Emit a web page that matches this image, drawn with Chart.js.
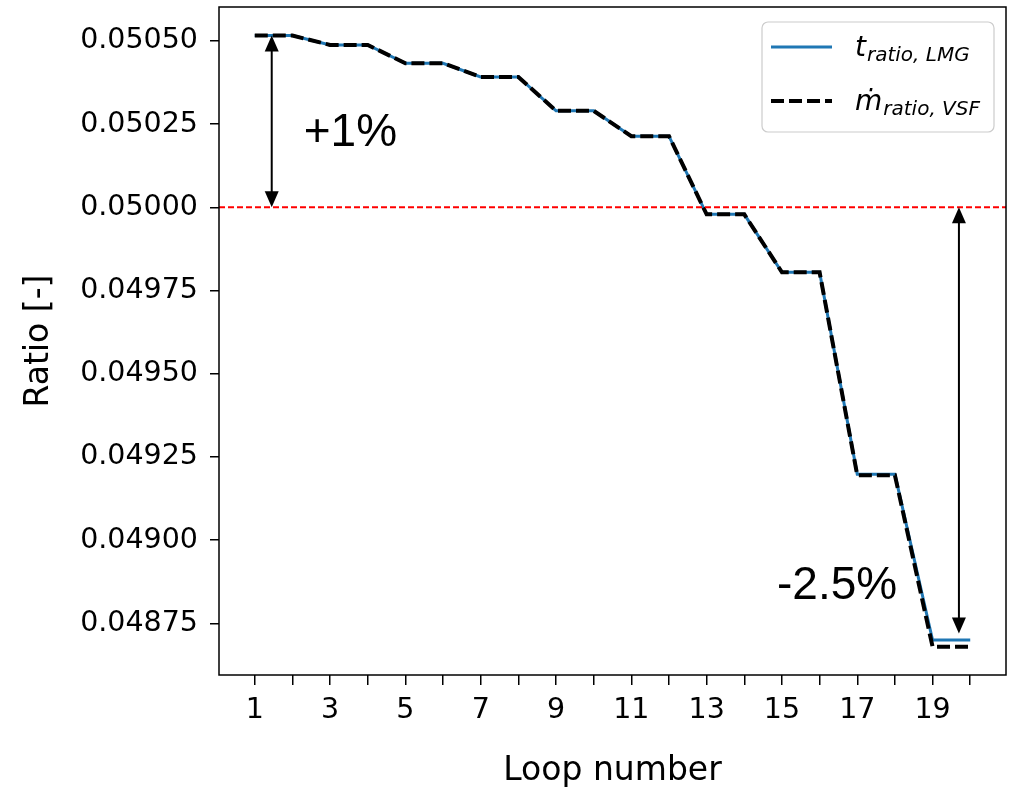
<!DOCTYPE html>
<html>
<head>
<meta charset="utf-8">
<script src="https://cdn.jsdelivr.net/npm/chart.js@4/dist/chart.umd.min.js"></script>
<style>
  html, body { margin: 0; padding: 0; background: #fff; }
  #wrap { width: 1013px; height: 789px; position: relative; }
</style>
</head>
<body>
<div id="wrap"><canvas id="c"></canvas></div>
<script>
// Loop index and the two ratio series per loop
const loops = [1, 2, 3, 4, 5, 6, 7, 8, 9, 10, 11, 12, 13, 14, 15, 16, 17, 18, 19, 20];
const tRatioLMG = [0.050516, 0.050516, 0.050488, 0.050488, 0.050433, 0.050433, 0.050392, 0.050392,
                   0.050290, 0.050290, 0.050214, 0.050214, 0.049979, 0.049979, 0.049805, 0.049805,
                   0.049198, 0.049198, 0.048700, 0.048700];
const mdotRatioVSF = [0.050516, 0.050516, 0.050488, 0.050488, 0.050433, 0.050433, 0.050392, 0.050392,
                      0.050290, 0.050290, 0.050214, 0.050214, 0.049979, 0.049979, 0.049805, 0.049805,
                      0.049195, 0.049195, 0.048680, 0.048680];
const targetRatio = 0.05;

// Axis ticks
const yTickValues = [0.04875, 0.04900, 0.04925, 0.04950, 0.04975, 0.05000, 0.05025, 0.05050];
const xTickValues = loops;
const xLabelledTicks = [1, 3, 5, 7, 9, 11, 13, 15, 17, 19];

// Axis limits
const xLimits = [0.05, 20.95];
const yLimits = [0.048595, 0.050602];

// Deviation arrows (double headed) and their labels
const arrowX = [1.45, 19.7];
const arrowFrom = [0.050516, 0.05];
const arrowTo = [0.05, 0.04872];
const noteText = ['+1%', '-2.5%'];
const noteX = [2.3, 14.87];
const noteY = [0.050223, 0.048862];

const toPoints = (xs, ys) => xs.map((x, i) => ({ x: x, y: ys[i] }));

const tickFont = { family: 'DejaVu Sans', size: 28.5 };
const titleFont = { family: 'DejaVu Sans', size: 33 };

const framePlugin = {
  id: 'frame',
  afterDatasetsDraw(chart) {
    const { ctx, chartArea: a } = chart;
    ctx.save();
    ctx.strokeStyle = '#000';
    ctx.lineWidth = 1.5;
    ctx.strokeRect(a.left, a.top, a.right - a.left, a.bottom - a.top);
    ctx.restore();
  }
};

const arrowPlugin = {
  id: 'arrows',
  afterDatasetsDraw(chart) {
    const { ctx, scales: { x, y } } = chart;
    ctx.save();
    ctx.strokeStyle = '#000';
    ctx.fillStyle = '#000';
    ctx.lineWidth = 2;
    const headLen = 16, headHalf = 7;
    arrowX.forEach((ax, i) => {
      const px = x.getPixelForValue(ax);
      const y1 = y.getPixelForValue(arrowFrom[i]);
      const y2 = y.getPixelForValue(arrowTo[i]);
      ctx.beginPath();
      ctx.moveTo(px, y1 + headLen * 0.8);
      ctx.lineTo(px, y2 - headLen * 0.8);
      ctx.stroke();
      // head at the top end
      ctx.beginPath();
      ctx.moveTo(px, y1);
      ctx.lineTo(px - headHalf, y1 + headLen);
      ctx.lineTo(px + headHalf, y1 + headLen);
      ctx.closePath();
      ctx.fill();
      // head at the bottom end
      ctx.beginPath();
      ctx.moveTo(px, y2);
      ctx.lineTo(px - headHalf, y2 - headLen);
      ctx.lineTo(px + headHalf, y2 - headLen);
      ctx.closePath();
      ctx.fill();
    });
    ctx.font = '46px "Liberation Sans", Arial, sans-serif';
    ctx.textAlign = 'left';
    ctx.textBaseline = 'middle';
    noteText.forEach((t, i) => {
      ctx.fillText(t, x.getPixelForValue(noteX[i]), y.getPixelForValue(noteY[i]));
    });
    ctx.restore();
  }
};

// Legend with math-style subscripts
const legendPlugin = {
  id: 'mathLegend',
  afterDraw(chart) {
    const { ctx, chartArea: a } = chart;
    const ds = chart.data.datasets;
    const w = 232, h = 110;
    const left = a.right - 12 - w, top = a.top + 15;
    ctx.save();
    ctx.beginPath();
    if (ctx.roundRect) ctx.roundRect(left, top, w, h, 6); else ctx.rect(left, top, w, h);
    ctx.fillStyle = 'rgba(255,255,255,0.85)';
    ctx.fill();
    ctx.strokeStyle = '#cccccc';
    ctx.lineWidth = 1.2;
    ctx.stroke();

    const entries = [
      { ds: ds[0], main: 't', sub: 'ratio, LMG', rowY: top + 25 },
      { ds: ds[1], main: '\u1E41', sub: 'ratio, VSF', rowY: top + 79 }
    ];
    entries.forEach(e => {
      ctx.beginPath();
      ctx.strokeStyle = e.ds.borderColor;
      ctx.lineWidth = e.ds.borderWidth;
      ctx.setLineDash(e.ds.borderDash || []);
      ctx.lineCap = 'butt';
      ctx.moveTo(left + 9, e.rowY);
      ctx.lineTo(left + 70, e.rowY);
      ctx.stroke();
      ctx.setLineDash([]);
      ctx.fillStyle = '#000';
      ctx.textBaseline = 'alphabetic';
      ctx.textAlign = 'left';
      ctx.font = 'italic 28px "DejaVu Sans"';
      const tx = left + 93;
      const base = e.rowY + 9;
      ctx.fillText(e.main, tx, base);
      const mw = ctx.measureText(e.main).width;
      ctx.font = 'italic 20px "DejaVu Sans"';
      ctx.fillText(e.sub, tx + mw + 1, base + 5);
    });
    ctx.restore();
  }
};

new Chart(document.getElementById('c'), {
  type: 'line',
  data: {
    datasets: [
      {
        label: 't_ratio,LMG',
        data: toPoints(loops, tRatioLMG),
        borderColor: '#1f77b4',
        borderWidth: 3,
        pointRadius: 0,
        tension: 0,
        fill: false,
        order: 2
      },
      {
        label: 'mdot_ratio,VSF',
        data: toPoints(loops, mdotRatioVSF),
        borderColor: '#000000',
        borderWidth: 4,
        borderDash: [13, 5],
        borderCapStyle: 'butt',
        pointRadius: 0,
        tension: 0,
        fill: false,
        order: 1
      },
      {
        label: 'target',
        data: toPoints(xLimits, [targetRatio, targetRatio]),
        borderColor: '#ff0000',
        borderWidth: 2,
        borderDash: [6, 3],
        pointRadius: 0,
        fill: false,
        order: 0
      }
    ]
  },
  options: {
    responsive: true,
    maintainAspectRatio: false,
    animation: false,
    layout: { padding: { top: 7, right: 7, left: 0, bottom: 0 } },
    plugins: {
      legend: { display: false },
      tooltip: { enabled: false }
    },
    scales: {
      x: {
        type: 'linear',
        min: xLimits[0],
        max: xLimits[1],
        afterBuildTicks: axis => { axis.ticks = xTickValues.map(v => ({ value: v })); },
        afterFit: axis => { axis.height = 114; axis.paddingLeft = 0; axis.paddingRight = 0; },
        border: { display: false },
        grid: { display: true, drawOnChartArea: false, drawTicks: true, tickLength: 10, color: '#000', lineWidth: 1.5 },
        ticks: {
          autoSkip: false,
          maxRotation: 0,
          color: '#000',
          font: tickFont,
          padding: 8,
          callback: v => (xLabelledTicks.includes(v) ? String(v) : '')
        },
        title: { display: true, text: 'Loop number', color: '#000', font: titleFont, padding: { top: 0, bottom: -2 } }
      },
      y: {
        type: 'linear',
        min: yLimits[0],
        max: yLimits[1],
        afterBuildTicks: axis => { axis.ticks = yTickValues.map(v => ({ value: v })); },
        afterFit: axis => { axis.width = 219; axis.paddingTop = 0; axis.paddingBottom = 0; },
        border: { display: false },
        grid: { display: true, drawOnChartArea: false, drawTicks: true, tickLength: 9, color: '#000', lineWidth: 1.5 },
        ticks: {
          autoSkip: false,
          color: '#000',
          font: tickFont,
          padding: 12,
          callback: v => Number(v).toFixed(5)
        },
        title: { display: true, text: 'Ratio [-]', color: '#000', font: titleFont, padding: { top: 20, bottom: 0 } }
      }
    }
  },
  plugins: [framePlugin, arrowPlugin, legendPlugin]
});
</script>
</body>
</html>
